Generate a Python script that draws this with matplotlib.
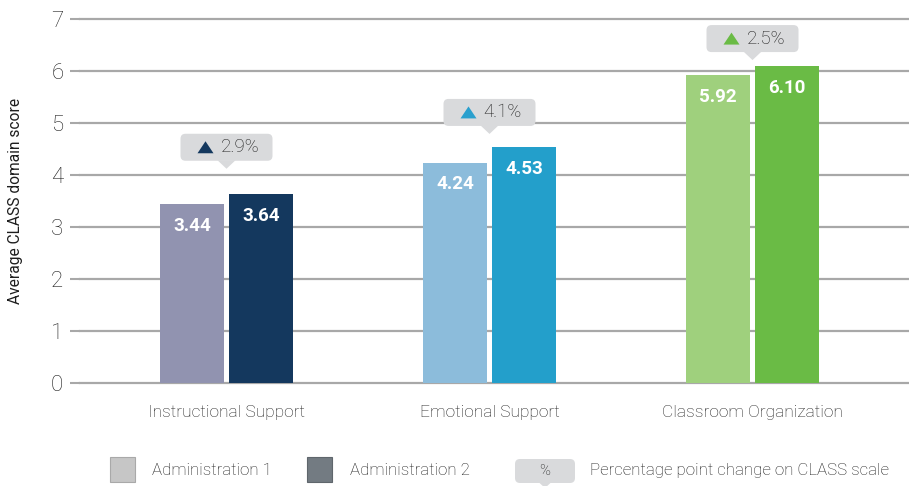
import matplotlib
matplotlib.use("Agg")
import matplotlib.pyplot as plt
from matplotlib.patches import FancyBboxPatch, Polygon, Rectangle
from matplotlib.transforms import IdentityTransform
import numpy as np

plt.rcParams['font.family'] = ['Roboto', 'DejaVu Sans']
plt.rcParams['font.weight'] = 'light'

categories = ["Instructional Support", "Emotional Support", "Classroom Organization"]
admin1 = [3.44, 4.24, 5.92]
admin2 = [3.64, 4.53, 6.10]
pct_change = ["2.9%", "4.1%", "2.5%"]
legend_labels = ["Administration 1", "Administration 2", "Percentage point change on CLASS scale"]
y_ticks = [0, 1, 2, 3, 4, 5, 6, 7]
ylabel = "Average CLASS domain score"

# styling / layout
TXT = "#1E1E1E"
colors1 = ["#9193B0", "#8CBCDB", "#9FD07D"]
colors2 = ["#14385E", "#239FCB", "#6ABB45"]
tri_colors = ["#14385E", "#2AA0CE", "#6ABB45"]
callout_tip = [4.12, 4.79, 6.21]   # data-y of callout pointer tip
W, H = 909, 486
fig = plt.figure(figsize=(W / 100, H / 100), dpi=100)
ax = fig.add_axes([80 / W, (H - 383) / H, 1 - 80 / W, 364 / H])
ax.set_xlim(-0.557, 2.595)
ax.set_ylim(0, 7)

x = np.arange(len(categories))
bw = 0.243
off = 0.131
ax.bar(x - off, admin1, bw, color=colors1, zorder=3)
ax.bar(x + off, admin2, bw, color=colors2, zorder=3)

for yv in y_ticks:
    ax.axhline(yv, color="#A8A8A8", lw=1.6, zorder=1, clip_on=False)

for xi, v in zip(x - off, admin1):
    ax.text(xi, v - 0.42, f"{v:.2f}", ha="center", va="center", color="white",
            fontsize=13.5, fontweight="bold", zorder=4)
for xi, v in zip(x + off, admin2):
    ax.text(xi, v - 0.42, f"{v:.2f}", ha="center", va="center", color="white",
            fontsize=13.5, fontweight="bold", zorder=4)

for s in ax.spines.values():
    s.set_visible(False)
ax.set_yticks(y_ticks)
ax.set_yticklabels([str(t) for t in y_ticks], fontsize=16, color=TXT)
ax.tick_params(axis="y", length=7, width=1.5, color="#A8A8A8", pad=5)
ax.set_xticks(x)
ax.set_xticklabels(categories, fontsize=12.5, color=TXT)
ax.tick_params(axis="x", length=0, pad=16)
ax.set_ylabel(ylabel, fontsize=11.2, color=TXT, labelpad=20)

ident = IdentityTransform()
box_col = "#D9DADC"


def callout(cx, tip_y, label, tcol, bw_px=92, bh_px=27, ph=8, pw=9):
    # cx, tip_y in display pixels
    bottom = tip_y + ph
    fig.patches.append(FancyBboxPatch((cx - bw_px / 2, bottom), bw_px, bh_px,
                                      boxstyle="round,pad=0,rounding_size=5",
                                      fc=box_col, ec="none", transform=ident, zorder=5))
    fig.patches.append(Polygon([(cx - pw, bottom + 0.5), (cx + pw, bottom + 0.5), (cx, tip_y)],
                               closed=True, fc=box_col, ec="none", transform=ident, zorder=5))
    cy = bottom + bh_px / 2
    if tcol is not None:
        fig.patches.append(Polygon([(cx - 29, cy - 6), (cx - 13, cy - 6), (cx - 21, cy + 6)],
                                   closed=True, fc=tcol, ec="none", transform=ident, zorder=6))
        fig.text((cx - 6) / W, cy / H, label, ha="left", va="center", fontsize=13.5,
                 color=TXT, zorder=7)
    else:
        fig.text(cx / W, cy / H, label, ha="center", va="center", fontsize=10.5,
                 color=TXT, zorder=7)


for i in range(len(categories)):
    px, py = ax.transData.transform((x[i], callout_tip[i]))
    callout(px, py, pct_change[i], tri_colors[i])

# legend
ly = H - 470
fs_leg = 12.2
fig.patches.append(Rectangle((110, ly - 12), 25, 25, fc="#C6C6C6", ec="#A9A9A9", lw=0.8,
                             transform=ident))
fig.text(152 / W, ly / H, legend_labels[0], ha="left", va="center", fontsize=fs_leg, color=TXT)
fig.patches.append(Rectangle((307, ly - 12), 25, 25, fc="#737B82", ec="#5F666C", lw=0.8,
                             transform=ident))
fig.text(350 / W, ly / H, legend_labels[1], ha="left", va="center", fontsize=fs_leg, color=TXT)
callout(545, H - 488, "%", None, bw_px=60, bh_px=24, ph=5, pw=6)
fig.text(590 / W, ly / H, legend_labels[2], ha="left", va="center", fontsize=fs_leg, color=TXT)

fig.savefig("out.png", dpi=100)
